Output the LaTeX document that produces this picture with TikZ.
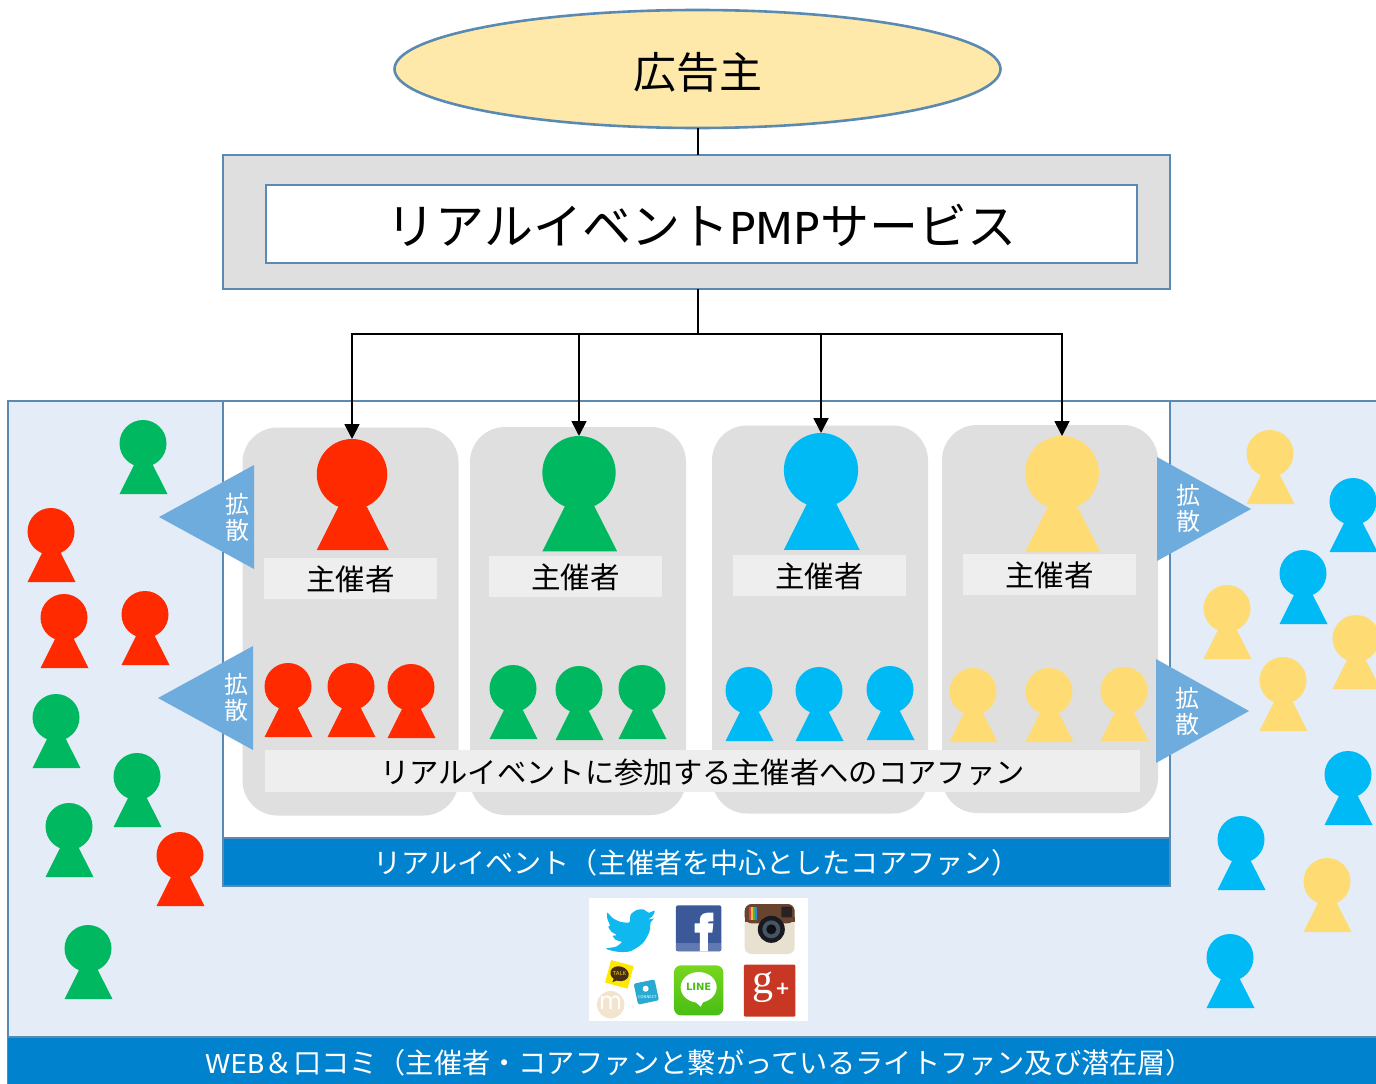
\documentclass[tikz,border=0pt]{standalone}
\usepackage{fontspec}
\setmainfont{Noto Sans CJK JP}
\newfontfamily\latinf{DejaVu Sans}
\newfontfamily\gfont{Liberation Serif}
\usetikzlibrary{shapes.geometric,arrows.meta}
\definecolor{cred}{HTML}{FF2A00}
\definecolor{cgreen}{HTML}{00B85F}
\definecolor{cblue}{HTML}{00BAF5}
\definecolor{cyellow}{HTML}{FFDC73}
\definecolor{cedge}{HTML}{5A8AB2}
\definecolor{cpale}{HTML}{E3ECF7}
\definecolor{cgrey}{HTML}{DFDFDF}
\definecolor{clabel}{HTML}{EEEEEE}
\definecolor{cband}{HTML}{0082CF}
\definecolor{carrow}{HTML}{6FACDE}
\definecolor{cegg}{HTML}{FEE9AA}
\definecolor{twit}{HTML}{10B8F0}
\definecolor{fbm}{HTML}{3B5998}
\definecolor{fbl}{HTML}{607AB0}
\definecolor{igc}{HTML}{E8E0D0}
\definecolor{igb}{HTML}{684430}
\definecolor{igr}{HTML}{E63C3C}
\definecolor{igy}{HTML}{F5BE32}
\definecolor{igg}{HTML}{46B45A}
\definecolor{igu}{HTML}{3C82D2}
\definecolor{igd}{HTML}{282323}
\definecolor{igl}{HTML}{191920}
\definecolor{igm}{HTML}{465564}
\definecolor{igk}{HTML}{0F0F14}
\definecolor{kky}{HTML}{FFE800}
\definecolor{kkb}{HTML}{462D19}
\definecolor{kkt}{HTML}{F0CD00}
\definecolor{kcb}{HTML}{28AAD2}
\definecolor{mbg}{HTML}{F3E4CD}
\definecolor{lng}{HTML}{48BE14}
\definecolor{lnt}{HTML}{78D61E}
\definecolor{gpr}{HTML}{C83723}
\newcommand{\fs}[1]{\fontsize{#1}{#1}\selectfont}
\newcommand{\dn}[2]{\raisebox{-#1}[\height][\depth]{#2}}
\tikzset{
  boxn/.style={rectangle,inner sep=0pt,outer sep=0pt,anchor=center},
  framed/.style={boxn,draw=cedge,line width=2.6pt},
  groupbg/.style={boxn,fill=cgrey,rounded corners=35pt},
  lab/.style={boxn,fill=clabel,font=\fs{29.5}},
  spread/.style={boxn,text=white,font=\fs{24},align=center},
  wedge/.style={fill=carrow},
  conn/.style={draw=black,line width=1.8pt},
  arr/.style={conn,-{Triangle[width=15pt,length=15pt]}},
}
% name, centre x, head top y, scale, colour
\newcommand{\figperson}[5]{%
  \begin{scope}[shift={(#2,#3)},scale=#4]
    \fill[#5] (-23.5,74) -- (-9,45) -- (9.8,45) -- (24.5,74) -- cycle;
    \node[circle,fill=#5,inner sep=0pt,outer sep=0pt,minimum size=47pt,transform shape] (#1) at (0,23.5) {};
  \end{scope}}
\begin{document}
\begin{tikzpicture}[x=1pt,y=-1pt]
\useasboundingbox (0,0) rectangle (1376,1084);
\clip (0,0) rectangle (1376,1084);
\coordinate (hub) at (698,334);
% backgrounds
\node[framed,fill=cpale,minimum width=1380pt,minimum height=690pt] (web) at (698,746) {};
\node[framed,fill=white,minimum width=947pt,minimum height=485pt] (real) at (696.5,643.5) {};
\node[boxn,fill=cband,draw=cedge,line width=2.6pt,minimum width=947pt,minimum height=48pt,text=white,font=\fs{28.1}] (realband) at (696.5,862) {\dn{1pt}{リアルイベント（主催者を中心としたコアファン）}};
\node[boxn,fill=cband,minimum width=1368pt,minimum height=47pt,text=white,font=\fs{28.2}] (webband) at (692,1060.5) {\dn{2pt}{\hspace*{15pt}{\latinf\fs{26}WEB}＆口コミ（主催者・コアファンと繋がっているライトファン及び潜在層）}};
\draw[cedge,line width=2.6pt] (web.west |- webband.north) -- (web.east |- webband.north);
% top
\node[ellipse,draw=cedge,line width=2.6pt,fill=cegg,minimum width=606pt,minimum height=118pt,inner sep=0pt,outer sep=0pt,font=\fs{43}] (adv) at (697.5,69) {\dn{3pt}{広告主}};
\node[framed,fill=cgrey,minimum width=947pt,minimum height=134pt] (pmpo) at (696.5,222) {};
\node[framed,fill=white,minimum width=871pt,minimum height=78pt,font=\fs{49}] (pmp) at (701.5,224) {\dn{1pt}{リアルイベント{\latinf\fs{44}PMP}サービス}};
\draw[conn] (hub |- adv.south) -- (hub |- pmpo.north);
% groups
\node[groupbg,minimum width=216pt,minimum height=388pt] (g1) at (350.5,621.5) {};
\node[groupbg,minimum width=216pt,minimum height=388pt] (g2) at (578,621) {};
\node[groupbg,minimum width=216pt,minimum height=388pt] (g3) at (820,619.5) {};
\node[groupbg,minimum width=216pt,minimum height=388pt] (g4) at (1050,619) {};
% organiser labels
\node[lab,minimum width=173pt,minimum height=41pt] (l1) at (350.5,578.5) {\dn{1pt}{主催者}};
\node[lab,minimum width=173pt,minimum height=41pt] (l2) at (575.5,576.5) {\dn{1pt}{主催者}};
\node[lab,minimum width=173pt,minimum height=41pt] (l3) at (819.5,575.5) {\dn{1pt}{主催者}};
\node[lab,minimum width=173pt,minimum height=41pt] (l4) at (1049.5,574.5) {\dn{1pt}{主催者}};
\node[lab,minimum width=875pt,minimum height=42pt,font=\fs{29.3}] (l5) at (702.5,771) {\dn{1pt}{リアルイベントに参加する主催者へのコアファン}};
% big persons
\figperson{p1}{352}{439}{1.5}{cred}
\figperson{p2}{579}{436}{1.56}{cgreen}
\figperson{p3}{821}{433}{1.58}{cblue}
\figperson{p4}{1062}{436}{1.57}{cyellow}
% connectors
\draw[conn] (hub |- pmpo.south) -- (hub);
\draw[arr] (hub) -| (p1.north);
\draw[arr] (hub) -| (p2.north);
\draw[arr] (hub) -| (p3.north);
\draw[arr] (hub) -| (p4.north);
% small persons in groups
\foreach \x/\y [count=\n] in {288/663,351/663,411/664}{\figperson{ra\n}{\x}{\y}{1}{cred}}
\foreach \x/\y [count=\n] in {513/665,579/666,642/665}{\figperson{ga\n}{\x}{\y}{1}{cgreen}}
\foreach \x/\y [count=\n] in {749/667,819/667,890/666}{\figperson{ba\n}{\x}{\y}{1}{cblue}}
\foreach \x/\y [count=\n] in {973/668,1049/668,1124/667}{\figperson{ya\n}{\x}{\y}{1}{cyellow}}
% scattered persons
\foreach \x/\y [count=\n] in {51/508,64/594,145/591,180/832}{\figperson{rb\n}{\x}{\y}{1}{cred}}
\foreach \x/\y [count=\n] in {143/420,56/694,137/753,69/803,88/925}{\figperson{gb\n}{\x}{\y}{1}{cgreen}}
\foreach \x/\y [count=\n] in {1353/478,1303/550,1348/751,1241/816,1230/934}{\figperson{bb\n}{\x}{\y}{1}{cblue}}
\foreach \x/\y [count=\n] in {1270/430,1227/585,1356/615,1283/657,1327/858}{\figperson{yb\n}{\x}{\y}{1}{cyellow}}
% spread arrows
\fill[wedge] (159,517) -- (254,465) -- (254,569) -- cycle;
\fill[wedge] (158,698) -- (253,646) -- (253,750) -- cycle;
\fill[wedge] (1157,457) -- (1251,509) -- (1157,561) -- cycle;
\fill[wedge] (1156,659) -- (1249,711) -- (1156,763) -- cycle;
\node[spread] (s1) at (237,517) {拡\\[2pt]散};
\node[spread] (s2) at (236,697) {拡\\[2pt]散};
\node[spread] (s3) at (1188,508) {拡\\[2pt]散};
\node[spread] (s4) at (1187,711) {拡\\[2pt]散};
% social icons
\node[boxn,fill=white,minimum width=219pt,minimum height=123pt] (soc) at (698.5,959.5) {};
\begin{scope}[shift={(580,890)},x=0.3333pt,y=-0.3333pt]
  % twitter
  \fill[twit] plot[smooth cycle,tension=.45] coordinates {(224,62)(206,68)(190,58)(170,60)(152,74)(148,97)(120,95)(98,84)(82,68)(82,86)(90,106)(85,110)(94,125)(110,135)(98,138)(108,150)(125,156)(108,170)(78,176)(110,185)(150,184)(188,160)(208,126)(212,97)(222,86)(206,88)(218,78)};
  % facebook
  \fill[fbm,rounded corners=2pt] (288,46) rectangle (424,184);
  \fill[fbl] (289,158) rectangle (423,183);
  \fill[white] (360,184) -- (360,128) -- (344,128) -- (344,100) -- (360,100) -- (360,88) .. controls (360,72) and (372,66) .. (400,68) -- (400,94) -- (388,94) .. controls (384,94) and (384,97) .. (384,100) -- (400,100) -- (397,128) -- (384,128) -- (384,184) -- cycle;
  % instagram
  \fill[igc,rounded corners=7pt] (494,42) rectangle (644,192);
  \fill[igb,rounded corners=7pt] (494,42) rectangle (644,100);
  \fill[igb] (494,80) rectangle (644,96);
  \fill[igr] (506,50) rectangle (512,90);
  \fill[igy] (512,50) rectangle (518,90);
  \fill[igg] (518,50) rectangle (524,90);
  \fill[igu] (524,50) rectangle (530,90);
  \fill[igd,rounded corners=1pt] (604,50) rectangle (636,82);
  \fill[igl] (574,118) circle [radius=13.5pt];
  \fill[igm] (574,118) circle [radius=9pt];
  \fill[igk] (574,118) circle [radius=5pt];
  % kakao talk
  \begin{scope}[shift={(118,253)},rotate=-15]
    \fill[kky] (-35,-35) rectangle (35,35);
    \fill[kkb] (0,-2) ellipse [x radius=9.3pt,y radius=7.3pt];
    \fill[kkb] (-12,14) -- (-14,28) -- (2,16) -- cycle;
    \node[boxn,text=kkt,font=\latinf\fs{5.5}] (kt) at (0,-2) {TALK};
  \end{scope}
  % connect
  \begin{scope}[shift={(199,306)},rotate=12]
    \fill[kcb,rounded corners=1.5pt] (-32,-32) rectangle (32,32);
    \fill[white] (0,-10) circle [radius=3pt];
    \node[boxn,text=white,font=\latinf\fs{3.8}] (kc) at (0,15) {CONNECT};
  \end{scope}
  % m bubble
  \fill[mbg] (92,344) circle [radius=13.7pt];
  \fill[mbg] (78,378) -- (106,378) -- (94,386) -- cycle;
  \node[boxn,text=white,font=\latinf\fs{24}] (mm) at (92,338) {m};
  % line
  \shade[top color=lnt,bottom color=lng,rounded corners=7pt] (282,226) rectangle (430,376);
  \fill[white] (356,292) ellipse [x radius=18pt,y radius=15.3pt];
  \fill[white] (340,330) -- (362,350) -- (372,332) -- cycle;
  \node[boxn,text=lng,font=\latinf\bfseries\fs{10}] (ln) at (356,292) {LINE};
  % google plus
  \fill[gpr,rounded corners=1pt] (492,224) rectangle (646,380);
  \node[boxn,text=white,font=\gfont\fs{42}] (gp) at (548,292) {g};
  \node[boxn,text=white,font=\latinf\bfseries\fs{18}] (gpp) at (608,296) {+};
\end{scope}
\end{tikzpicture}
\end{document}
